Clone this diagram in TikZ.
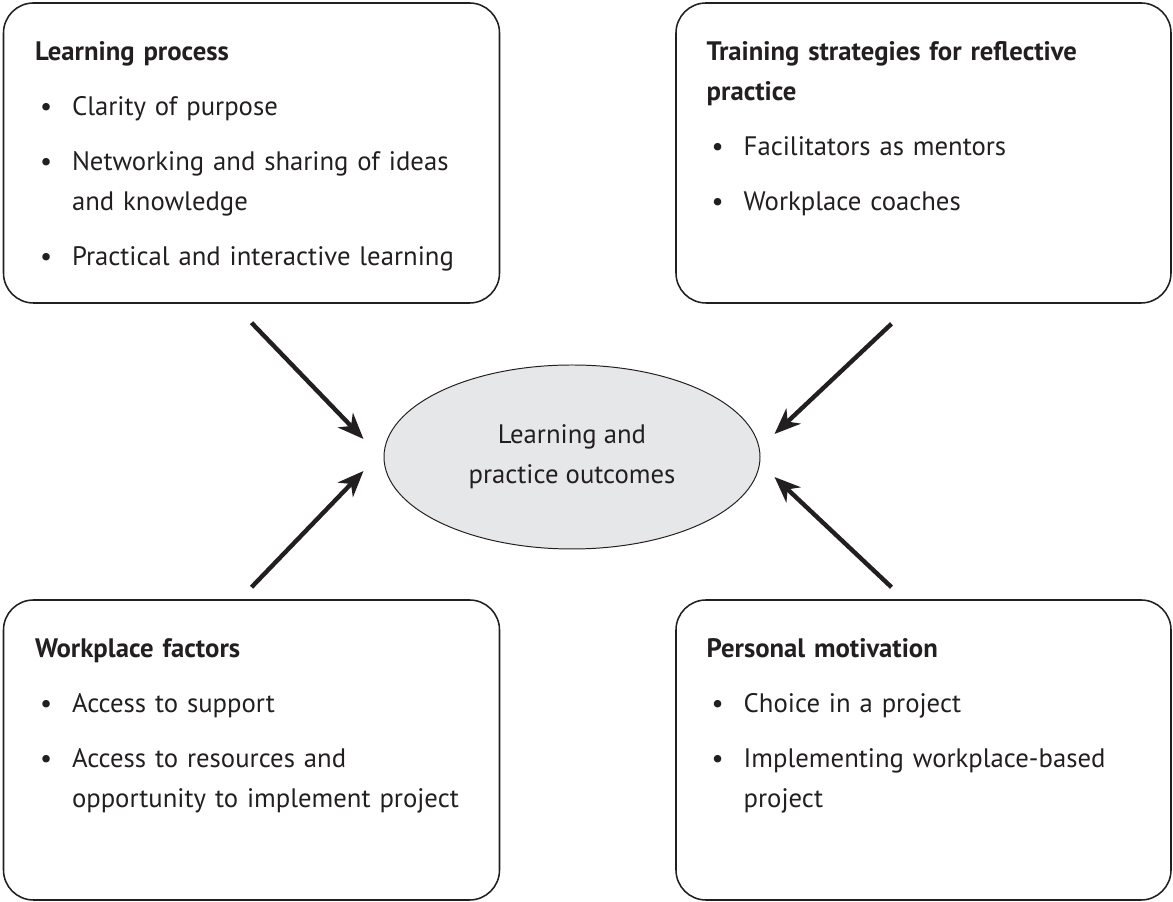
\documentclass[tikz,border=0pt]{standalone}
\usepackage{fontspec}
\setmainfont{PT Sans}
\usepackage{tikz}
\usetikzlibrary{arrows.meta,shapes.geometric}

\definecolor{inkgray}{HTML}{231F20}
\definecolor{ovalgray}{HTML}{E6E7E8}

% one bullet point inside a card
\newcommand{\bpoint}[1]{\par\vspace{0.375cm}\hangindent=0.925cm\hangafter=1\noindent\hspace*{0.125cm}\makebox[0.8cm][l]{\textbullet}#1\par}

\tikzset{
    card/.style={draw=inkgray, line width=1.1pt, rounded corners=0.75cm, minimum width=12.4cm, minimum height=7.5cm, inner sep=0pt},
    cardtext/.style={anchor=north west, inner sep=0pt, text width=11.6cm, text=inkgray, font=\fontsize{19}{28.45}\selectfont},
    flow/.style={-{Stealth[length=0.65cm, width=0.52cm, inset=0.2cm]}, line width=0.11cm, draw=inkgray}
}

\begin{document}
\begin{tikzpicture}
        \useasboundingbox (0, 0) rectangle (29.325, 22.55);

        % Centre outcome
        \node[ellipse, draw=inkgray, line width=0.7pt, fill=ovalgray, minimum width=9.4cm, minimum height=4.6cm,
              align=center, text=inkgray, font=\fontsize{19}{28.45}\selectfont] (out) at (14.3, 11.125)
              {Learning and\\practice outcomes};

        % Learning process card
        \node[card] (lp) at (6.2875, 18.725) {};
        \node[cardtext] (lptext) at ([shift={(0.8cm,-0.75cm)}]lp.north west) {\strut\textbf{Learning process}
            \bpoint{Clarity of purpose}
            \bpoint{Networking and sharing of ideas\newline and knowledge}
            \bpoint{Practical and interactive learning}};

        % Training strategies card
        \node[card, minimum width=12.375cm] (ts) at (23.0875, 18.725) {};
        \node[cardtext] (tstext) at ([shift={(0.78cm,-0.75cm)}]ts.north west) {\strut\textbf{Training strategies for reflective\newline practice}
            \bpoint{Facilitators as mentors}
            \bpoint{Workplace coaches}};

        % Workplace factors card
        \node[card] (wf) at (6.2875, 3.8) {};
        \node[cardtext] (wftext) at ([shift={(0.8cm,-0.75cm)}]wf.north west) {\strut\textbf{Workplace factors}
            \bpoint{Access to support}
            \bpoint{Access to resources and\newline opportunity to implement project}};

        % Personal motivation card
        \node[card, minimum width=12.375cm] (pm) at (23.0875, 3.8) {};
        \node[cardtext] (pmtext) at ([shift={(0.78cm,-0.75cm)}]pm.north west) {\strut\textbf{Personal motivation}
            \bpoint{Choice in a project}
            \bpoint{Implementing workplace-based\newline project}};

        % Arrows into the outcome
        \draw[flow] ([yshift=-0.475cm]lp.south) -- ([shift={(-0.5cm,0.45cm)}]out.west);
        \draw[flow] ([shift={(-0.8cm,-0.5cm)}]ts.south) -- ([shift={(0.35cm,0.575cm)}]out.east);
        \draw[flow] ([yshift=0.3cm]wf.north) -- ([shift={(-0.5cm,-0.35cm)}]out.west);
        \draw[flow] ([shift={(-0.8cm,0.3cm)}]pm.north) -- ([shift={(0.35cm,-0.5cm)}]out.east);
    \end{tikzpicture}
\end{document}
